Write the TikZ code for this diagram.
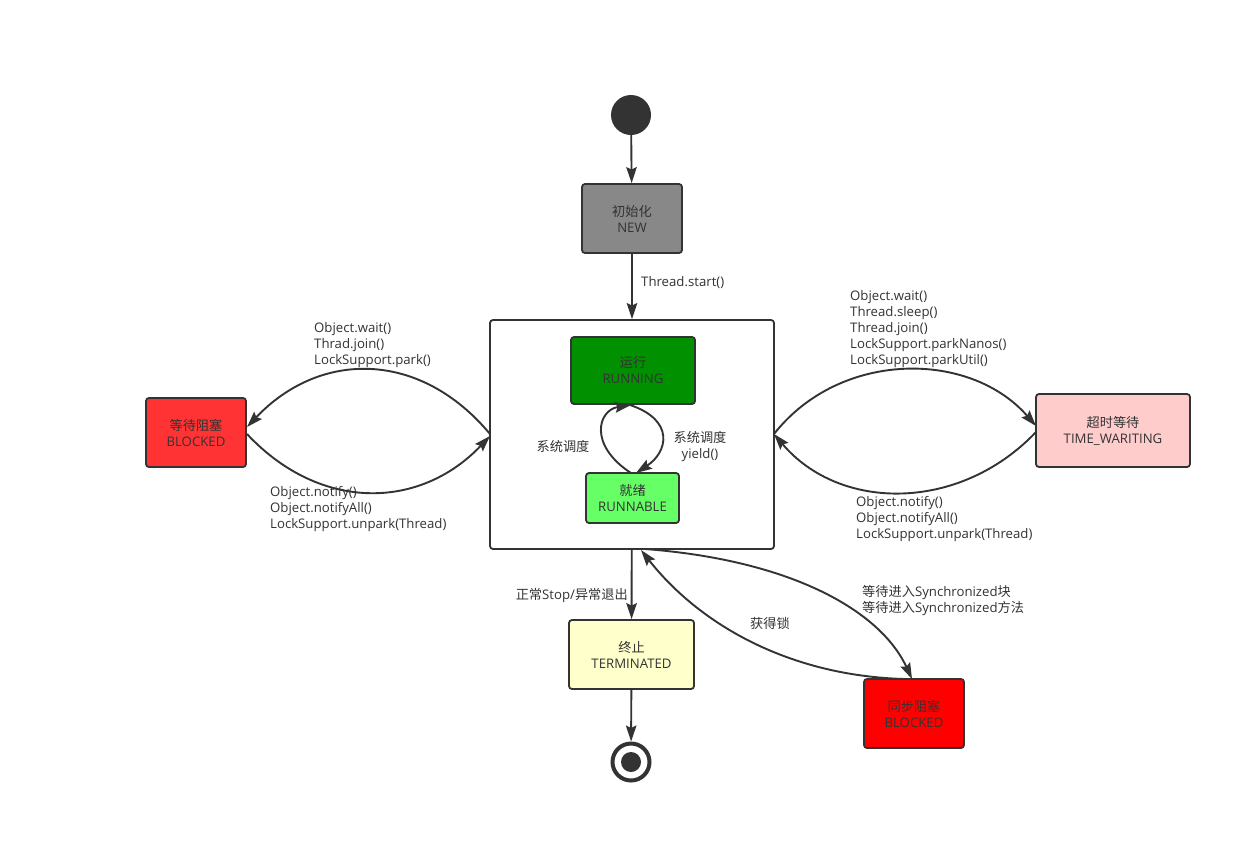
\documentclass[tikz,border=0pt]{standalone}
\usepackage{fontspec}
\setmainfont{Open Sans}
\newfontfamily\cjk{Noto Sans CJK SC}
\usetikzlibrary{arrows.meta}
\definecolor{ink}{HTML}{333333}
\definecolor{newc}{HTML}{888888}
\definecolor{runc}{HTML}{009000}
\definecolor{rblc}{HTML}{66FF66}
\definecolor{blkc}{HTML}{FF3333}
\definecolor{twc}{HTML}{FFCCCC}
\definecolor{termc}{HTML}{FFFFCC}
\definecolor{syncc}{HTML}{FF0000}
\begin{document}
\begin{tikzpicture}[x=1pt,y=-1pt,
  state/.style={draw=ink,line width=1.8pt,rounded corners=3pt,minimum width=#1,align=center,inner sep=0pt,text=ink,font=\fontsize{13.2}{16}\selectfont},
  lbl/.style={text=ink,font=\fontsize{13.2}{16}\selectfont,inner sep=0pt},
  conn/.style={draw=ink,line width=1.9pt,-{Stealth[length=16pt,width=10.5pt,inset=2.5pt]}}]
\useasboundingbox (0,0) rectangle (1252,844);
\fill[white] (0,0) rectangle (1252,844);
% start
\node[circle,fill=ink,minimum size=40pt,inner sep=0pt] (start) at (631,115) {};
\node[state=100pt,minimum height=69pt,fill=newc] (new) at (632,218.5) {{\cjk 初始化}\\NEW};
% container
\node[draw=ink,line width=1.8pt,rounded corners=3pt,fill=white,minimum width=284pt,minimum height=229pt,inner sep=0pt] (box) at (632,434.5) {};
\node[state=124pt,minimum height=67pt,fill=runc] (run) at (633,370.5) {{\cjk 运行}\\RUNNING};
\node[state=93pt,minimum height=50pt,fill=rblc] (rbl) at (632.5,498) {{\cjk 就绪}\\RUNNABLE};
\node[state=100pt,minimum height=69pt,fill=blkc] (blk) at (196,432.5) {{\cjk 等待阻塞}\\BLOCKED};
\node[state=154pt,minimum height=73pt,fill=twc] (tw) at (1113,430.5) {{\cjk 超时等待}\\TIME\_WARITING};
\node[state=125pt,minimum height=69pt,fill=termc] (term) at (631.5,654.5) {{\cjk 终止}\\TERMINATED};
\node[state=100pt,minimum height=69pt,fill=syncc] (sync) at (914,713.5) {{\cjk 同步阻塞}\\BLOCKED};
% end
\node[circle,draw=ink,line width=4pt,fill=white,minimum size=37pt,inner sep=0pt] (end) at (631,762) {};
\node[circle,fill=ink,minimum size=20pt,inner sep=0pt] (endin) at (end) {};
% coordinates on box borders
\coordinate (boxL1) at (490,434);
\coordinate (boxL2) at (490,436);
\coordinate (boxR1) at (774,434);
\coordinate (boxR2) at (774,434);
\coordinate (blkR1) at (247,427);
\coordinate (blkR2) at (247,434);
\coordinate (twL1) at (1036,426);
\coordinate (twL2) at (1036,432);
\coordinate (boxB1) at (645,549);
\coordinate (boxB2) at (641,550);
\coordinate (syncT1) at (912,679);
\coordinate (syncT2) at (905,679);
\coordinate (runB) at (630,405);
\coordinate (runB2) at (631,405);
\coordinate (rblT) at (631,473);
\coordinate (rblT2) at (636,473);
% connectors
\draw[conn] (start) -- (new);
\draw[conn] (new) -- (box);
\draw[conn] (box) -- (term);
\draw[conn] (term) -- (end);
\draw[conn] (boxL1) .. controls (420,350) and (320,350) .. (blkR1);
\draw[conn] (blkR2) .. controls (320,512) and (420,510) .. (boxL2);
\draw[conn] (boxR1) .. controls (840,350) and (970,350) .. (twL1);
\draw[conn] (twL2) .. controls (960,512) and (840,512) .. (boxR2);
\draw[conn] (boxB1) .. controls (790,560) and (880,610) .. (syncT1);
\draw[conn] (syncT2) .. controls (790,676) and (700,625) .. (boxB2);
\draw[conn] (rblT) .. controls (588,445) and (598,410) .. (runB2);
\draw[conn] (runB) .. controls (675,420) and (668,452) .. (rblT2);
% labels
\node[lbl,anchor=west] (lstart) at (641,283) {Thread.start()};
\node[lbl,anchor=north west,align=left] (lwait) at (314,322) {Object.wait()\\Thrad.join()\\LockSupport.park()};
\node[lbl,anchor=north west,align=left] (lnotify) at (270,486) {Object.notify()\\Object.notifyAll()\\LockSupport.unpark(Thread)};
\node[lbl,anchor=north west,align=left] (ltw) at (850,290) {Object.wait()\\Thread.sleep()\\Thread.join()\\LockSupport.parkNanos()\\LockSupport.parkUtil()};
\node[lbl,anchor=north west,align=left] (ltwn) at (856,496) {Object.notify()\\Object.notifyAll()\\LockSupport.unpark(Thread)};
\node[lbl] (lsys1) at (563,446) {\cjk 系统调度};
\node[lbl,align=center] (lsys2) at (700,446) {{\cjk 系统调度}\\yield()};
\node[lbl,anchor=east] (lstop) at (628,596) {{\cjk 正常}Stop/{\cjk 异常退出}};
\node[lbl,anchor=north west,align=left] (lsync) at (862,585) {{\cjk 等待进入}Synchronized{\cjk 块}\\{\cjk 等待进入}Synchronized{\cjk 方法}};
\node[lbl] (llock) at (770,623) {\cjk 获得锁};
\end{tikzpicture}
\end{document}
